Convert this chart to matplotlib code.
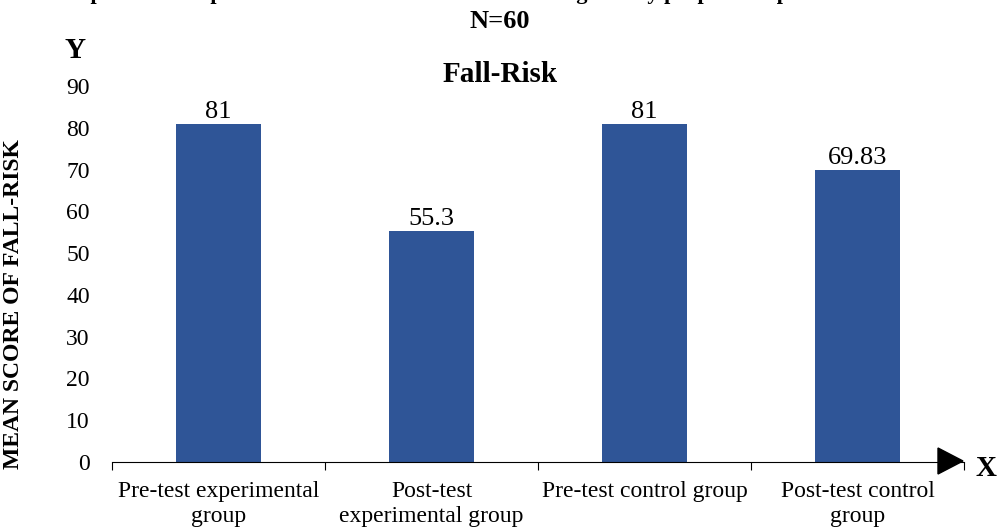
import matplotlib.pyplot as plt
from matplotlib.patches import Polygon

# mean fall-risk scores, N=60
groups = ['Pre-test experimental\ngroup', 'Post-test\nexperimental group',
          'Pre-test control group', 'Post-test control\ngroup']
scores = [81, 55.3, 81, 69.83]
score_labels = ['81', '55.3', '81', '69.83']
yticks = [0, 10, 20, 30, 40, 50, 60, 70, 80, 90]

plt.rcParams['font.family'] = ['Liberation Serif', 'DejaVu Serif']

fig = plt.figure(figsize=(9.98, 5.28), dpi=100)
ax = fig.add_axes([112 / 998, 66 / 528, 852 / 998, 376 / 528])

xs = range(len(groups))
ax.bar(xs, scores, width=0.4, color='#2F5597', zorder=2)
for x, v, lab in zip(xs, scores, score_labels):
    ax.text(x, v + 0.2, lab, ha='center', va='bottom', fontsize=19)

ax.set_xlim(-0.5, 3.5)
ax.set_ylim(0, 90)
ax.set_yticks(yticks)
ax.tick_params(axis='y', length=0, labelsize=17, pad=16)
ax.set_xticks([-0.5, 0.5, 1.5, 2.5, 3.5])
ax.set_xticklabels([])
ax.set_xticks(list(xs), minor=True)
ax.set_xticklabels(groups, minor=True, fontsize=17, linespacing=1.2)
ax.tick_params(axis='x', which='major', length=6, width=0.8, direction='out')
ax.tick_params(axis='x', which='minor', length=0, pad=14)
for s in ['top', 'right', 'left']:
    ax.spines[s].set_visible(False)
ax.spines['bottom'].set_linewidth(0.8)

# arrow head at the end of the x axis (pixel coordinates, origin bottom-left)
arrow = Polygon([[938 / 100, (528 - 448) / 100], [938 / 100, (528 - 474) / 100],
                 [963 / 100, (528 - 461) / 100]], closed=True,
                color='black', transform=fig.dpi_scale_trans)
fig.patches.append(arrow)

ax.set_ylabel('MEAN SCORE OF FALL-RISK', fontsize=17, fontweight='bold')
ax.yaxis.set_label_coords(-88 / 852, 0.42)

fig.text(75 / 998, 1 - 51 / 528, 'Y', fontsize=21, fontweight='bold',
         ha='center', va='center')
fig.text(986 / 998, 1 - 468 / 528, 'X', fontsize=21, fontweight='bold',
         ha='center', va='center')
fig.text(500 / 998, 1 - 75 / 528, 'Fall-Risk', fontsize=21, fontweight='bold',
         ha='center', va='center')
fig.text(500 / 998, 1 - 21 / 528, 'N=60', fontsize=19, fontweight='bold',
         ha='center', va='center')
fig.text(500 / 998, 1 + 1 / 528,
         'Comparison of pre-test and post-test mean scores of fall-risk among elderly people in experimental and control group',
         fontsize=16, fontweight='bold', ha='center', va='baseline')

fig.savefig('out.png', dpi=100)
